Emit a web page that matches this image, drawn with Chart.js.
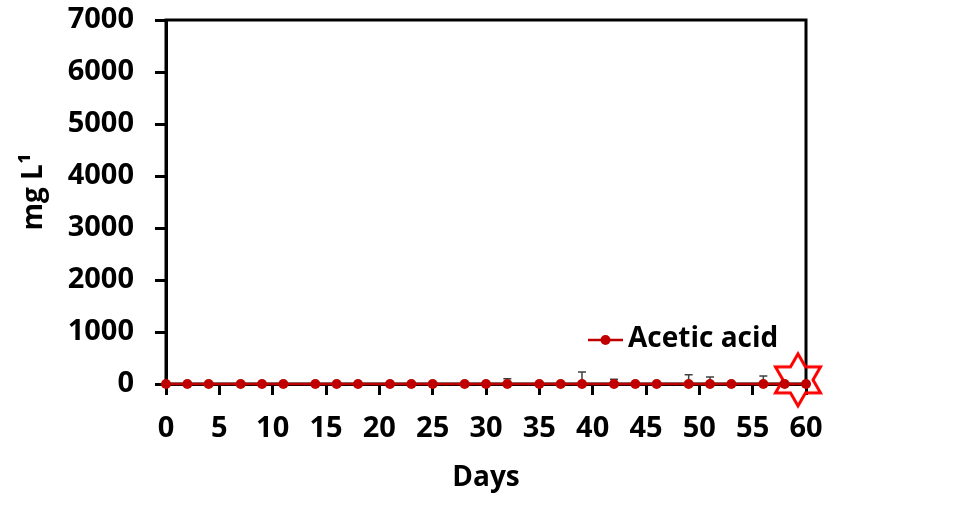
<!DOCTYPE html>
<html>
<head>
<meta charset="utf-8">
<script src="https://cdn.jsdelivr.net/npm/chart.js@4/dist/chart.umd.min.js"></script>
<style>
  html, body { margin: 0; padding: 0; background: #ffffff; }
  canvas { display: block; }
</style>
</head>
<body>
<canvas id="chart" width="974" height="505"></canvas>
<script>
// Sampling days and measured acetic acid concentration (mg L-1)
const days = [0, 2, 4, 7, 9, 11, 14, 16, 18, 21, 23, 25, 28, 30, 32, 35, 37, 39, 42, 44, 46, 49, 51, 53, 56, 58, 60];
const aceticAcid = [0, 0, 0, 0, 0, 0, 0, 0, 0, 0, 0, 0, 0, 0, 0, 0, 0, 0, 0, 0, 0, 0, 0, 0, 0, 0, 0];
// Upper standard deviation for each sampling day
const aceticAcidSd = [0, 0, 0, 0, 0, 0, 0, 0, 0, 0, 0, 0, 0, 0, 100, 0, 0, 230, 90, 0, 0, 180, 135, 0, 155, 0, 0];
// Highlighted end-of-run sample
const markerDay = [59.25];
const markerValue = [80];
// Axis ticks
const xTicks = [0, 5, 10, 15, 20, 25, 30, 35, 40, 45, 50, 55, 60];
const yTicks = [0, 1000, 2000, 3000, 4000, 5000, 6000, 7000];

const FONT = "'Open Sans', 'Noto Sans', sans-serif";
const SERIES_COLOR = '#C00000';
const NO_PADDING = () => ({ left: 0, top: 0, right: 0, bottom: 0 });

// Six-pointed outline star used as the marker point style
function hexagram(R, lw, color) {
  const size = Math.ceil(2 * R + 2 * lw + 4);
  const c = document.createElement('canvas');
  c.width = size; c.height = size;
  const g = c.getContext('2d');
  const cx = size / 2, cy = size / 2, r = R / Math.sqrt(3);
  g.beginPath();
  for (let i = 0; i < 12; i++) {
    const a = -Math.PI / 2 + i * Math.PI / 6;
    const rad = i % 2 === 0 ? R : r;
    const px = cx + rad * Math.cos(a), py = cy + rad * Math.sin(a);
    if (i === 0) g.moveTo(px, py); else g.lineTo(px, py);
  }
  g.closePath();
  g.lineWidth = lw;
  g.lineJoin = 'miter';
  g.strokeStyle = color;
  g.stroke();
  return c;
}
const starImage = hexagram(26, 3, '#FF0000');

// Box around the plotting area
const frame = {
  id: 'frame',
  beforeDatasetsDraw(chart) {
    const { ctx, chartArea: a } = chart;
    ctx.save();
    ctx.strokeStyle = '#000';
    ctx.lineWidth = 3;
    ctx.strokeRect(a.left, a.top, a.right - a.left, a.bottom - a.top);
    ctx.restore();
  }
};

// Upper error bars
const errorBars = {
  id: 'errorBars',
  beforeDatasetsDraw(chart) {
    const { ctx, scales: { x, y } } = chart;
    ctx.save();
    ctx.strokeStyle = '#404040';
    ctx.lineWidth = 1.5;
    days.forEach((d, i) => {
      const sd = aceticAcidSd[i];
      if (!sd) return;
      const px = x.getPixelForValue(d);
      const p0 = y.getPixelForValue(aceticAcid[i]);
      const p1 = y.getPixelForValue(aceticAcid[i] + sd);
      ctx.beginPath();
      ctx.moveTo(px, p0); ctx.lineTo(px, p1);
      ctx.moveTo(px - 4, p1); ctx.lineTo(px + 4, p1);
      ctx.stroke();
    });
    ctx.restore();
  }
};

// Y-axis title and in-plot legend
const annotations = {
  id: 'annotations',
  afterDraw(chart) {
    const { ctx } = chart;
    ctx.save();
    ctx.fillStyle = '#000';
    ctx.font = `bold 28px ${FONT}`;
    ctx.textAlign = 'center';
    ctx.textBaseline = 'middle';
    ctx.translate(34, 192);
    ctx.rotate(-Math.PI / 2);
    ctx.fillText('mg L\u00B9', 0, 0);
    ctx.restore();

    const ds = chart.data.datasets[0];
    ctx.save();
    ctx.strokeStyle = ds.borderColor;
    ctx.lineWidth = 2.5;
    ctx.beginPath();
    ctx.moveTo(588, 340); ctx.lineTo(623, 340);
    ctx.stroke();
    ctx.fillStyle = ds.backgroundColor;
    ctx.beginPath();
    ctx.arc(605.5, 340, 5, 0, Math.PI * 2);
    ctx.fill();
    ctx.fillStyle = '#000';
    ctx.font = `bold 28px ${FONT}`;
    ctx.textAlign = 'left';
    ctx.textBaseline = 'middle';
    ctx.fillText(ds.label, 628, 339);
    ctx.restore();
  }
};

new Chart(document.getElementById('chart'), {
  type: 'scatter',
  data: {
    datasets: [
      {
        label: 'Acetic acid',
        data: days.map((d, i) => ({ x: d, y: aceticAcid[i] })),
        showLine: true,
        borderColor: SERIES_COLOR,
        backgroundColor: SERIES_COLOR,
        borderWidth: 2.5,
        pointRadius: 5,
        pointHoverRadius: 5,
        pointBorderWidth: 0,
        clip: false
      },
      {
        label: 'end',
        data: markerDay.map((d, i) => ({ x: d, y: markerValue[i] })),
        showLine: false,
        pointStyle: starImage,
        pointRadius: 27,
        clip: false
      }
    ]
  },
  options: {
    responsive: false,
    animation: false,
    devicePixelRatio: 1,
    layout: { autoPadding: false, padding: { top: 20, right: 168, bottom: 0, left: 0 } },
    plugins: { legend: { display: false }, tooltip: { enabled: false } },
    scales: {
      x: {
        type: 'linear',
        min: xTicks[0],
        max: xTicks[xTicks.length - 1],
        afterBuildTicks(s) { s.ticks = xTicks.map(v => ({ value: v })); },
        afterFit(s) { s.height = 121; s.getPadding = NO_PADDING; },
        ticks: {
          padding: 16,
          color: '#000',
          maxRotation: 0,
          autoSkip: false,
          callback: v => String(v),
          font: { family: FONT, size: 29, weight: 'bold' }
        },
        grid: { drawOnChartArea: false, drawTicks: true, tickLength: 11, tickWidth: 3, tickColor: '#000' },
        border: { display: true, color: '#000', width: 3 },
        title: {
          display: true,
          text: 'Days',
          color: '#000',
          padding: { top: 0, bottom: 10 },
          font: { family: FONT, size: 28, weight: 'bold' }
        }
      },
      y: {
        type: 'linear',
        min: yTicks[0],
        max: yTicks[yTicks.length - 1],
        afterBuildTicks(s) { s.ticks = yTicks.map(v => ({ value: v })); },
        afterFit(s) { s.width = 166; s.getPadding = NO_PADDING; },
        ticks: {
          padding: 21,
          color: '#000',
          callback: v => String(v),
          font: { family: FONT, size: 29, weight: 'bold' }
        },
        grid: { drawOnChartArea: false, drawTicks: true, tickLength: 11, tickWidth: 3, tickColor: '#000' },
        border: { display: true, color: '#000', width: 3 }
      }
    }
  },
  plugins: [frame, errorBars, annotations]
});
</script>
</body>
</html>
